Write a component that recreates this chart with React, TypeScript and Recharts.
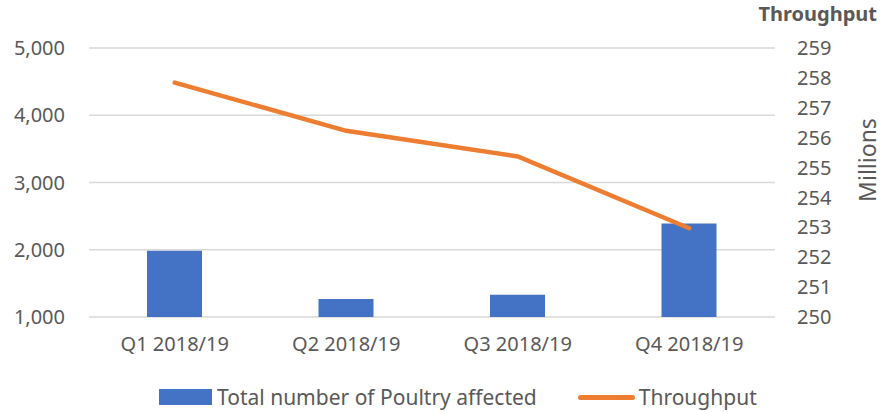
import { ComposedChart, Bar, Line, XAxis, YAxis, CartesianGrid, Legend } from 'recharts';

const quarters = ['Q1 2018/19', 'Q2 2018/19', 'Q3 2018/19', 'Q4 2018/19'];
const poultryAffected = [1985, 1266, 1332, 2392];
// throughput in millions
const throughput = [257.84, 256.23, 255.37, 252.97];
const leftTicks = [1000, 2000, 3000, 4000, 5000];
const rightTicks = [250, 251, 252, 253, 254, 255, 256, 257, 258, 259];

const FONT = '"Noto Sans", sans-serif';
const GREY = '#595959';
const BLUE = '#4472C4';
const ORANGE = '#ED7D31';

const data = quarters.map((q, i) => ({
  quarter: q,
  poultry: poultryAffected[i],
  throughput: throughput[i],
}));

function LegendContent() {
  return (
    <div style={{ display: 'flex', alignItems: 'center', height: 30, paddingLeft: 159, fontFamily: FONT, fontSize: 21, color: GREY, whiteSpace: 'nowrap' }}>
      <span style={{ display: 'inline-block', width: 53, height: 16, background: BLUE }} />
      <span style={{ marginLeft: 5 }}>Total number of Poultry affected</span>
      <span style={{ display: 'inline-block', width: 57, height: 5, borderRadius: 3, background: ORANGE, marginLeft: 41 }} />
      <span style={{ marginLeft: 4 }}>Throughput</span>
    </div>
  );
}

function MillionsLabel({ viewBox }: any) {
  const cx = viewBox.x + 92;
  const cy = 160;
  return (
    <text x={cx} y={cy} transform={`rotate(-90 ${cx} ${cy})`} textAnchor="middle" dominantBaseline="central" fill={GREY} fontSize={23} fontFamily={FONT}>
      Millions
    </text>
  );
}

export default function App() {
  const tick = { fill: GREY, fontSize: 20, fontFamily: FONT };
  return (
    <div style={{ position: 'absolute', left: 0, top: 0, background: '#fff' }}>
      <ComposedChart width={883} height={412} data={data} margin={{ top: 48, right: 0, bottom: 0, left: 0 }}>
        <CartesianGrid vertical={false} stroke="#D9D9D9" strokeWidth={1.5} yAxisId="left" />
        <XAxis dataKey="quarter" axisLine={false} tickLine={false} tickSize={0} tickMargin={20} height={65} tick={tick} interval={0} />
        <YAxis
          yAxisId="left"
          domain={[1000, 5000]}
          ticks={leftTicks}
          axisLine={false}
          tickLine={false}
          tickSize={0}
          tickMargin={24}
          width={89}
          tick={tick}
          tickFormatter={(v: number) => v.toLocaleString('en-US')}
        />
        <YAxis
          yAxisId="right"
          orientation="right"
          domain={[250, 259]}
          ticks={rightTicks}
          axisLine={false}
          tickLine={false}
          tickSize={0}
          tickMargin={22}
          width={108}
          tick={tick}
          label={<MillionsLabel />}
        />
        <Bar yAxisId="left" dataKey="poultry" name="Total number of Poultry affected" fill={BLUE} barSize={55} isAnimationActive={false} />
        <Line
          yAxisId="right"
          dataKey="throughput"
          name="Throughput"
          stroke={ORANGE}
          strokeWidth={4.5}
          strokeLinecap="round"
          dot={false}
          activeDot={false}
          type="linear"
          isAnimationActive={false}
        />
        <Legend verticalAlign="bottom" height={30} content={<LegendContent />} />
        <text x={877} y={21} textAnchor="end" fill={GREY} fontSize={20} fontWeight="bold" fontFamily={FONT}>
          Throughput
        </text>
      </ComposedChart>
    </div>
  );
}
